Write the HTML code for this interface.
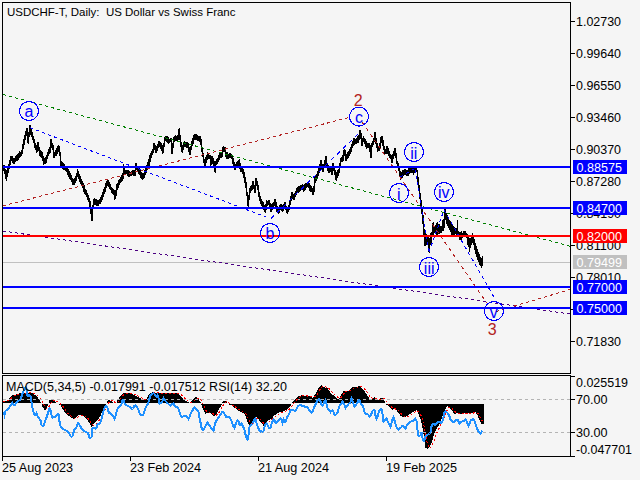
<!DOCTYPE html>
<html><head><meta charset="utf-8"><style>
html,body{margin:0;padding:0;background:#f5f5f5;width:640px;height:480px;overflow:hidden}
svg{display:block}
text{font-family:"Liberation Sans", sans-serif}
</style></head><body>
<svg width="640" height="480" viewBox="0 0 640 480">
<rect x="0" y="0" width="640" height="480" fill="#f5f5f5"/>
<rect x="3" y="262" width="567" height="1" fill="#c0c0c0"/>
<path d="M3 165v6M4 165v9M5 169v10M6 170v11M7 168v9M8 164v9M9 160v9M10 156v9M11 156v5M12 156v7M13 158v6M14 158v6M15 156v6M16 155v6M17 154v7M18 153v7M19 151v7M20 152v5M21 150v6M22 144v10M23 139v10M24 135v10M25 131v9M26 128v8M27 128v15M28 132v12M29 125v12M30 125v10M31 129v8M32 132v8M33 136v7M34 139v9M35 143v7M36 145v8M37 142v10M38 142v9M39 147v9M40 150v7M41 151v7M42 152v9M43 156v9M44 158v6M45 157v7M46 155v8M47 152v7M48 149v7M49 147v7M50 139v14M51 139v9M52 143v7M53 145v13M54 152v6M55 150v6M56 148v8M57 146v8M58 145v7M59 146v10M60 152v14M61 161v7M62 162v7M63 163v7M64 164v6M65 166v5M66 167v5M67 168v7M68 169v8M69 171v8M70 173v7M71 175v7M72 178v7M73 179v6M74 178v7M75 176v7M76 173v8M77 169v8M78 171v8M79 174v8M80 176v8M81 179v7M82 181v7M83 183v9M84 185v9M85 189v6M86 190v7M87 193v7M88 195v7M89 198v9M90 201v13M91 209v12M92 205v16M93 199v10M94 198v7M95 199v6M96 199v7M97 200v6M98 200v6M99 199v5M100 197v7M101 195v7M102 192v8M103 189v8M104 187v7M105 183v9M106 181v7M107 180v6M108 180v7M109 182v7M110 184v6M111 187v6M112 188v6M113 189v6M114 190v10M115 190v9M116 184v12M117 183v7M118 180v8M119 179v6M120 177v6M121 175v7M122 173v8M123 164v15M124 166v9M125 170v5M126 170v4M127 170v6M128 170v7M129 171v6M130 172v4M131 171v5M132 170v5M133 170v6M134 170v6M135 163v13M136 163v7M137 166v5M138 167v7M139 168v7M140 170v8M141 172v7M142 173v7M143 173v6M144 170v8M145 168v7M146 165v8M147 162v8M148 159v8M149 155v11M150 153v9M151 151v7M152 149v6M153 143v10M154 143v7M155 145v8M156 146v7M157 144v7M158 141v7M159 141v6M160 142v7M161 143v8M162 145v9M163 143v10M164 137v10M165 136v5M166 136v6M167 136v7M168 137v7M169 139v4M170 138v4M171 138v16M172 143v11M173 137v11M174 136v6M175 135v6M176 136v5M177 135v6M178 129v11M179 128v12M180 135v12M181 142v10M182 145v8M183 142v8M184 141v6M185 142v5M186 142v6M187 142v6M188 143v9M189 147v8M190 146v9M191 141v9M192 138v8M193 135v9M194 134v6M195 134v6M196 134v6M197 135v6M198 136v5M199 136v6M200 136v9M201 139v13M202 147v10M203 153v10M204 159v8M205 157v10M206 155v8M207 152v8M208 154v5M209 155v4M210 155v11M211 156v9M212 156v8M213 158v8M214 161v11M215 161v12M216 159v6M217 158v6M218 155v7M219 153v7M220 152v6M221 152v6M222 147v10M223 146v6M224 147v5M225 147v10M226 152v7M227 152v7M228 154v5M229 153v5M230 153v5M231 154v5M232 155v9M233 158v9M234 162v8M235 164v6M236 162v6M237 161v6M238 160v6M239 159v10M240 163v9M241 167v5M242 167v7M243 169v9M244 172v11M245 177v11M246 182v14M247 192v14M248 195v12M249 188v12M250 186v7M251 185v6M252 181v9M253 181v8M254 185v8M255 178v15M256 178v8M257 181v9M258 185v12M259 192v9M260 196v8M261 199v7M262 201v6M263 202v8M264 205v7M265 204v9M266 200v10M267 201v5M268 200v5M269 200v8M270 203v9M271 204v8M272 203v7M273 202v6M274 199v7M275 199v8M276 202v10M277 206v7M278 207v7M279 205v8M280 204v6M281 204v7M282 205v7M283 204v7M284 202v7M285 202v8M286 206v7M287 207v7M288 205v7M289 201v9M290 196v9M291 192v9M292 192v7M293 194v6M294 193v7M295 191v6M296 188v7M297 187v6M298 186v7M299 186v6M300 185v6M301 185v5M302 184v6M303 185v7M304 184v7M305 183v7M306 183v5M307 183v4M308 182v6M309 183v8M310 185v7M311 186v6M312 188v7M313 186v9M314 177v15M315 176v7M316 174v7M317 171v8M318 168v8M319 164v9M320 160v10M321 160v9M322 164v8M323 164v8M324 160v8M325 156v11M326 156v12M327 163v8M328 165v8M329 167v6M330 166v6M331 166v9M332 163v12M333 163v8M334 166v9M335 170v10M336 172v9M337 170v8M338 169v7M339 163v10M340 158v9M341 157v5M342 155v7M343 150v11M344 149v7M345 150v11M346 154v7M347 152v7M348 151v7M349 149v7M350 147v7M351 144v8M352 141v7M353 138v8M354 138v7M355 139v5M356 138v6M357 136v7M358 135v8M359 130v10M360 130v9M361 133v13M362 138v8M363 136v6M364 138v6M365 139v8M366 141v8M367 143v5M368 143v5M369 143v9M370 145v13M371 143v15M372 141v6M373 138v7M374 132v10M375 132v12M376 138v10M377 143v9M378 147v4M379 143v8M380 137v11M381 136v7M382 136v10M383 140v10M384 146v9M385 149v5M386 146v8M387 146v8M388 148v8M389 151v7M390 154v5M391 155v8M392 154v9M393 151v8M394 148v8M395 148v10M396 153v11M397 161v7M398 163v8M399 166v10M400 171v9M401 172v7M402 170v8M403 170v6M404 169v6M405 169v6M406 170v6M407 170v6M408 168v8M409 167v7M410 168v5M411 168v5M412 168v5M413 168v7M414 166v7M415 166v6M416 168v4M417 170v12M418 177v13M419 185v14M420 193v14M421 200v14M422 207v17M423 215v21M424 229v17M425 232v14M426 234v11M427 235v9M428 236v16M429 238v15M430 233v12M431 232v12M432 223v12M433 222v13M434 226v7M435 225v8M436 223v12M437 222v13M438 224v10M439 224v10M440 226v7M441 226v7M442 220v11M443 219v12M444 208v20M445 208v12M446 213v11M447 215v11M448 218v10M449 220v10M450 221v11M451 224v11M452 224v11M453 226v10M454 227v10M455 228v6M456 228v8M457 220v14M458 231v5M459 232v8M460 232v8M461 231v9M462 233v5M463 231v5M464 231v5M465 231v5M466 233v5M467 234v11M468 236v11M469 238v14M470 238v10M471 235v10M472 233v10M473 236v9M474 239v11M475 243v11M476 246v11M477 249v11M478 252v10M479 254v11M480 257v9M481 258v10M482 256v10" stroke="#000" stroke-width="1" transform="translate(0.5,0)" shape-rendering="crispEdges" fill="none"/>
<g shape-rendering="crispEdges"><line x1="3" y1="94.5" x2="570" y2="246.2" stroke="#008000" stroke-width="1" stroke-dasharray="3.106 3.106"/><line x1="3" y1="231" x2="570" y2="314" stroke="#4b0082" stroke-width="1" stroke-dasharray="3.032 3.032"/><line x1="3" y1="205.8" x2="351" y2="117" stroke="#b22222" stroke-width="1" stroke-dasharray="3.096 3.096"/><line x1="362" y1="122" x2="490" y2="307.6" stroke="#b22222" stroke-width="1" stroke-dasharray="3.644 3.644"/><line x1="496" y1="311.5" x2="570" y2="289.5" stroke="#b22222" stroke-width="1" stroke-dasharray="3.130 3.130"/><line x1="30" y1="127.75" x2="266" y2="217" stroke="#0000ff" stroke-width="1" stroke-dasharray="3.207 3.207"/><line x1="271" y1="218.5" x2="358" y2="134" stroke="#0000ff" stroke-width="1" stroke-dasharray="4.182 4.182"/><line x1="400" y1="177" x2="414" y2="169" stroke="#0000ff" stroke-width="1" stroke-dasharray="3.455 3.455"/><line x1="415" y1="170" x2="429" y2="252" stroke="#0000ff" stroke-width="1" stroke-dasharray="3.043 3.043"/><line x1="429" y1="252" x2="444" y2="210" stroke="#0000ff" stroke-width="1" stroke-dasharray="3.186 3.186"/><line x1="444" y1="210" x2="495" y2="299" stroke="#0000ff" stroke-width="1" stroke-dasharray="3.458 3.458"/></g>
<rect x="3" y="166" width="567" height="2" fill="#0000ff"/>
<rect x="3" y="207" width="567" height="2" fill="#0000ff"/>
<rect x="3" y="235" width="567" height="2" fill="#ff0000"/>
<rect x="3" y="286" width="567" height="2" fill="#0000ff"/>
<rect x="3" y="307" width="567" height="2" fill="#0000ff"/>
<circle cx="29" cy="111" r="9.5" fill="none" stroke="#0000ff" stroke-width="1.1" shape-rendering="crispEdges"/>
<text x="29" y="117.45" font-size="16" fill="#0000ff" text-anchor="middle">a</text>
<circle cx="270" cy="233" r="9.5" fill="none" stroke="#0000ff" stroke-width="1.1" shape-rendering="crispEdges"/>
<text x="270" y="239.29999999999998" font-size="16" fill="#0000ff" text-anchor="middle">b</text>
<circle cx="359" cy="116.6" r="9.5" fill="none" stroke="#0000ff" stroke-width="1.1" shape-rendering="crispEdges"/>
<text x="359" y="122.9" font-size="16" fill="#0000ff" text-anchor="middle">c</text>
<circle cx="414" cy="152" r="9.5" fill="none" stroke="#0000ff" stroke-width="1.1" shape-rendering="crispEdges"/>
<text x="413.8" y="158.89999999999998" font-size="16" fill="#0000ff" text-anchor="middle">ii</text>
<circle cx="399" cy="193" r="9.5" fill="none" stroke="#0000ff" stroke-width="1.1" shape-rendering="crispEdges"/>
<text x="398.8" y="199.6" font-size="16" fill="#0000ff" text-anchor="middle">i</text>
<circle cx="444" cy="192" r="9.5" fill="none" stroke="#0000ff" stroke-width="1.1" shape-rendering="crispEdges"/>
<text x="443.7" y="198.2" font-size="16" fill="#0000ff" text-anchor="middle">iv</text>
<circle cx="429" cy="267" r="9.5" fill="none" stroke="#0000ff" stroke-width="1.1" shape-rendering="crispEdges"/>
<text x="429.2" y="273.5" font-size="16" fill="#0000ff" text-anchor="middle">iii</text>
<circle cx="494" cy="311" r="9.5" fill="none" stroke="#0000ff" stroke-width="1.1" shape-rendering="crispEdges"/>
<text x="493.7" y="317.7" font-size="16" fill="#0000ff" text-anchor="middle">v</text>
<text x="358.3" y="106" font-size="16" fill="#b22222" text-anchor="middle">2</text>
<text x="492.2" y="335" font-size="16" fill="#b22222" text-anchor="middle">3</text>
<g shape-rendering="crispEdges" fill="none" stroke="#000" stroke-width="1">
<path d="M2.5 2.5H570.5V373.5H2.5Z"/>
<path d="M2.5 375.5H570.5V456.5H2.5Z"/>
</g>
<text x="576" y="26" font-size="12.5" fill="#000" text-anchor="start" textLength="45" lengthAdjust="spacingAndGlyphs">1.02730</text>
<text x="576" y="58" font-size="12.5" fill="#000" text-anchor="start" textLength="45" lengthAdjust="spacingAndGlyphs">0.99640</text>
<text x="576" y="90" font-size="12.5" fill="#000" text-anchor="start" textLength="45" lengthAdjust="spacingAndGlyphs">0.96550</text>
<text x="576" y="122" font-size="12.5" fill="#000" text-anchor="start" textLength="45" lengthAdjust="spacingAndGlyphs">0.93460</text>
<text x="576" y="154" font-size="12.5" fill="#000" text-anchor="start" textLength="45" lengthAdjust="spacingAndGlyphs">0.90370</text>
<text x="576" y="186" font-size="12.5" fill="#000" text-anchor="start" textLength="45" lengthAdjust="spacingAndGlyphs">0.87280</text>
<text x="576" y="218" font-size="12.5" fill="#000" text-anchor="start" textLength="45" lengthAdjust="spacingAndGlyphs">0.84190</text>
<text x="576" y="250" font-size="12.5" fill="#000" text-anchor="start" textLength="45" lengthAdjust="spacingAndGlyphs">0.81100</text>
<text x="576" y="282" font-size="12.5" fill="#000" text-anchor="start" textLength="45" lengthAdjust="spacingAndGlyphs">0.78010</text>
<text x="576" y="314" font-size="12.5" fill="#000" text-anchor="start" textLength="45" lengthAdjust="spacingAndGlyphs">0.74920</text>
<text x="576" y="346" font-size="12.5" fill="#000" text-anchor="start" textLength="45" lengthAdjust="spacingAndGlyphs">0.71830</text>
<path d="M571 21.5H575M571 53.5H575M571 85.5H575M571 117.5H575M571 149.5H575M571 181.5H575M571 213.5H575M571 245.5H575M571 277.5H575M571 309.5H575M571 341.5H575M571 376.5H575M571 399.5H575M571 432.5H575M571 456.5H575" stroke="#000" stroke-width="1" shape-rendering="crispEdges"/>
<rect x="573" y="160" width="54" height="14" fill="#0000ff"/>
<text x="576.5" y="172" font-size="12.5" fill="#fff" text-anchor="start" textLength="45.5" lengthAdjust="spacingAndGlyphs">0.88575</text>
<rect x="573" y="201" width="54" height="14" fill="#0000ff"/>
<text x="576.5" y="213" font-size="12.5" fill="#fff" text-anchor="start" textLength="45.5" lengthAdjust="spacingAndGlyphs">0.84700</text>
<rect x="573" y="229" width="54" height="14" fill="#ff0000"/>
<text x="576.5" y="241" font-size="12.5" fill="#fff" text-anchor="start" textLength="45.5" lengthAdjust="spacingAndGlyphs">0.82000</text>
<rect x="573" y="255" width="54" height="14" fill="#c0c0c0"/>
<text x="576.5" y="267" font-size="12.5" fill="#fff" text-anchor="start" textLength="45.5" lengthAdjust="spacingAndGlyphs">0.79499</text>
<rect x="573" y="280" width="54" height="14" fill="#0000ff"/>
<text x="576.5" y="292" font-size="12.5" fill="#fff" text-anchor="start" textLength="45.5" lengthAdjust="spacingAndGlyphs">0.77000</text>
<rect x="573" y="301" width="54" height="14" fill="#0000ff"/>
<text x="576.5" y="313" font-size="12.5" fill="#fff" text-anchor="start" textLength="45.5" lengthAdjust="spacingAndGlyphs">0.75000</text>
<text x="7" y="15.5" font-size="11.5" fill="#000" text-anchor="start" textLength="228.5" lengthAdjust="spacingAndGlyphs">USDCHF-T, Daily:&#160; US Dollar vs Swiss Franc</text>
<path d="M3 402v1M4 401v2M5 401v2M6 401v2M7 400v3M8 400v3M9 398v5M10 397v6M11 396v7M12 395v8M13 395v8M14 395v8M15 395v8M16 394v9M17 394v9M18 394v9M19 393v10M20 393v10M21 393v10M22 393v10M23 393v10M24 393v10M25 393v10M26 393v10M27 393v10M28 393v10M29 393v10M30 393v10M31 393v10M32 393v10M33 394v9M34 395v8M35 395v8M36 396v7M37 397v6M38 399v4M39 400v3M40 402v1M42 404v3M43 404v4M44 404v6M45 404v6M46 404v5M47 404v2M49 400v3M50 400v3M51 400v3M52 400v3M53 400v3M54 400v3M55 402v1M59 404v1M60 404v1M61 404v3M62 404v5M63 404v6M64 404v8M65 404v9M66 404v10M67 404v11M68 404v12M69 404v12M70 404v13M71 404v14M72 404v14M73 404v15M74 404v14M75 404v14M76 404v13M77 404v12M78 404v11M79 404v11M80 404v11M81 404v11M82 404v11M83 404v12M84 404v13M85 404v14M86 404v15M87 404v16M88 404v18M89 404v19M90 404v21M91 404v23M92 404v22M93 404v20M94 404v19M95 404v18M96 404v17M97 404v16M98 404v15M99 404v13M100 404v12M101 404v9M102 404v7M103 404v5M104 404v3M105 404v2M107 401v2M108 400v3M109 400v3M110 401v2M111 401v2M112 402v1M117 400v3M118 399v4M119 397v6M120 396v7M121 395v8M122 394v9M123 393v10M124 393v10M125 393v10M126 393v10M127 393v10M128 393v10M129 393v10M130 394v9M131 394v9M132 394v9M133 395v8M134 395v8M135 396v7M136 396v7M137 397v6M138 397v6M139 398v5M140 398v5M141 399v4M142 400v3M143 400v3M144 400v3M145 400v3M146 399v4M147 397v6M148 395v8M149 394v9M150 393v10M151 393v10M152 392v11M153 392v11M154 393v10M155 393v10M156 393v10M157 393v10M158 393v10M159 393v10M160 393v10M161 393v10M162 393v10M163 393v10M164 393v10M165 393v10M166 393v10M167 393v10M168 393v10M169 393v10M170 393v10M171 393v10M172 393v10M173 393v10M174 393v10M175 393v10M176 393v10M177 394v9M178 394v9M179 395v8M180 396v7M181 397v6M182 398v5M183 399v4M184 400v3M185 401v2M186 401v2M187 402v1M188 402v1M190 402v1M191 401v2M192 400v3M193 399v4M194 398v5M195 397v6M196 397v6M197 398v5M198 399v4M199 401v2M200 402v1M201 404v1M202 404v4M203 404v6M204 404v8M205 404v10M206 404v9M207 404v9M208 404v9M209 404v9M210 404v9M211 404v10M212 404v11M213 404v12M214 404v12M215 404v11M216 404v10M217 404v8M218 404v6M219 404v4M220 404v3M221 404v1M222 402v1M223 401v2M224 401v2M225 401v2M226 402v1M229 404v1M230 404v1M231 404v1M232 404v2M233 404v3M234 404v4M235 404v4M236 404v5M237 404v6M238 404v7M239 404v7M240 404v8M241 404v8M242 404v9M243 404v9M244 404v10M245 404v12M246 404v15M247 404v18M248 404v20M249 404v21M250 404v21M251 404v19M252 404v18M253 404v16M254 404v15M255 404v13M256 404v13M257 404v14M258 404v15M259 404v17M260 404v18M261 404v19M262 404v20M263 404v22M264 404v22M265 404v20M266 404v18M267 404v17M268 404v16M269 404v16M270 404v15M271 404v15M272 404v14M273 404v12M274 404v11M275 404v11M276 404v10M277 404v9M278 404v9M279 404v8M280 404v8M281 404v8M282 404v8M283 404v7M284 404v7M285 404v6M286 404v6M287 404v5M288 404v4M289 404v3M290 404v2M292 402v1M293 401v2M294 400v3M295 399v4M296 398v5M297 397v6M298 396v7M299 396v7M300 396v7M301 395v8M302 395v8M303 395v8M304 396v7M305 396v7M306 396v7M307 396v7M308 396v7M309 396v7M310 396v7M311 397v6M312 398v5M313 397v6M314 395v8M315 394v9M316 392v11M317 390v13M318 388v15M319 387v16M320 386v17M321 385v18M322 386v17M323 387v16M324 387v16M325 388v15M326 388v15M327 388v15M328 390v13M329 391v12M330 393v10M331 394v9M332 395v8M333 395v8M334 396v7M335 397v6M336 398v5M337 399v4M338 399v4M339 398v5M340 396v7M341 394v9M342 393v10M343 391v12M344 391v12M345 391v12M346 391v12M347 391v12M348 391v12M349 390v13M350 389v14M351 388v15M352 387v16M353 387v16M354 387v16M355 387v16M356 387v16M357 387v16M358 386v17M359 386v17M360 387v16M361 388v15M362 389v14M363 390v13M364 391v12M365 393v10M366 394v9M367 396v7M368 397v6M369 399v4M370 399v4M371 399v4M372 399v4M373 398v5M374 397v6M375 398v5M376 400v3M377 400v3M378 400v3M379 399v4M380 398v5M381 398v5M382 398v5M383 399v4M384 401v2M386 404v1M387 404v1M388 404v2M389 404v3M390 404v4M391 404v5M392 404v6M393 404v5M394 404v4M395 404v5M396 404v6M397 404v8M398 404v9M399 404v10M400 404v12M401 404v12M402 404v13M403 404v13M404 404v13M405 404v13M406 404v12M407 404v12M408 404v11M409 404v10M410 404v10M411 404v9M412 404v8M413 404v8M414 404v7M415 404v7M416 404v6M417 404v8M418 404v10M419 404v13M420 404v15M421 404v19M422 404v24M423 404v30M424 404v36M425 404v44M426 404v44M427 404v45M428 404v44M429 404v43M430 404v41M431 404v39M432 404v36M433 404v32M434 404v29M435 404v27M436 404v25M437 404v23M438 404v22M439 404v20M440 404v18M441 404v15M442 404v12M443 404v10M444 404v7M445 404v5M446 404v3M447 404v2M448 404v3M449 404v4M450 404v5M451 404v6M452 404v7M453 404v9M454 404v10M455 404v10M456 404v9M457 404v9M458 404v9M459 404v10M460 404v10M461 404v10M462 404v10M463 404v10M464 404v9M465 404v9M466 404v9M467 404v9M468 404v9M469 404v10M470 404v9M471 404v9M472 404v9M473 404v8M474 404v8M475 404v8M476 404v10M477 404v11M478 404v14M479 404v16M480 404v18M481 404v20M482 404v20M483 404v20" stroke="#000" stroke-width="1" transform="translate(0.5,0)" shape-rendering="crispEdges"/>
<path d="M3 399.5H570M3 432.5H570" stroke="#b4b4b4" stroke-width="1" stroke-dasharray="3 3" shape-rendering="crispEdges"/>
<polyline points="3.5,401.7 4.5,401.5 5.5,401.3 6.5,401.1 7.5,400.9 8.5,400.5 9.5,399.9 10.5,399.1 11.5,398.2 12.5,397.2 13.5,396.3 14.5,395.6 15.5,395.2 16.5,394.8 17.5,394.5 18.5,394.2 19.5,393.9 20.5,393.6 21.5,393.4 22.5,393.3 23.5,393.3 24.5,393.2 25.5,393.1 26.5,393.1 27.5,392.9 28.5,392.9 29.5,392.8 30.5,392.8 31.5,392.8 32.5,392.9 33.5,393.1 34.5,393.5 35.5,393.9 36.5,394.6 37.5,395.4 38.5,396.4 39.5,397.4 40.5,398.7 41.5,400.3 42.5,402.2 43.5,404.2 44.5,406.1 45.5,407.7 46.5,408.7 47.5,408.5 48.5,407.4 49.5,405.5 50.5,403.6 51.5,401.9 52.5,400.7 53.5,400.1 54.5,400.1 55.5,400.5 56.5,401.1 57.5,401.7 58.5,402.4 59.5,403.3 60.5,404.0 61.5,404.7 62.5,405.7 63.5,407.1 64.5,408.6 65.5,410.2 66.5,411.6 67.5,412.9 68.5,413.9 69.5,414.8 70.5,415.5 71.5,416.3 72.5,417.0 73.5,417.7 74.5,418.1 75.5,418.3 76.5,418.1 77.5,417.6 78.5,416.9 79.5,416.2 80.5,415.6 81.5,415.2 82.5,415.1 83.5,415.3 84.5,415.6 85.5,416.2 86.5,417.0 87.5,418.0 88.5,419.1 89.5,420.5 90.5,421.9 91.5,423.6 92.5,424.7 93.5,425.2 94.5,425.1 95.5,424.5 96.5,423.3 97.5,422.1 98.5,421.0 99.5,419.8 100.5,418.6 101.5,417.0 102.5,415.2 103.5,413.3 104.5,411.3 105.5,409.3 106.5,407.2 107.5,405.1 108.5,403.2 109.5,401.8 110.5,400.7 111.5,400.3 112.5,400.7 113.5,401.4 114.5,402.0 115.5,402.5 116.5,402.9 117.5,402.4 118.5,401.5 119.5,400.3 120.5,398.9 121.5,397.3 122.5,396.0 123.5,395.0 124.5,394.2 125.5,393.7 126.5,393.4 127.5,393.3 128.5,393.3 129.5,393.3 130.5,393.4 131.5,393.5 132.5,393.7 133.5,394.0 134.5,394.4 135.5,394.8 136.5,395.3 137.5,395.8 138.5,396.2 139.5,396.7 140.5,397.2 141.5,397.8 142.5,398.4 143.5,399.0 144.5,399.6 145.5,399.9 146.5,399.9 147.5,399.4 148.5,398.4 149.5,397.2 150.5,395.9 151.5,394.6 152.5,393.6 153.5,393.0 154.5,392.7 155.5,392.6 156.5,392.6 157.5,392.7 158.5,392.8 159.5,392.9 160.5,393.0 161.5,393.1 162.5,393.2 163.5,393.2 164.5,393.3 165.5,393.3 166.5,393.3 167.5,393.3 168.5,393.3 169.5,393.3 170.5,393.3 171.5,393.3 172.5,393.3 173.5,393.3 174.5,393.3 175.5,393.3 176.5,393.3 177.5,393.4 178.5,393.4 179.5,393.8 180.5,394.3 181.5,395.1 182.5,396.0 183.5,397.0 184.5,398.0 185.5,399.0 186.5,399.8 187.5,400.6 188.5,401.3 189.5,401.8 190.5,402.1 191.5,402.2 192.5,401.9 193.5,401.2 194.5,400.2 195.5,399.3 196.5,398.4 197.5,398.0 198.5,398.0 199.5,398.5 200.5,399.4 201.5,400.9 202.5,402.8 203.5,405.0 204.5,407.3 205.5,409.6 206.5,411.4 207.5,412.4 208.5,412.9 209.5,413.0 210.5,412.9 211.5,413.0 212.5,413.4 213.5,414.0 214.5,414.6 215.5,415.1 216.5,415.1 217.5,414.5 218.5,413.3 219.5,411.7 220.5,410.0 221.5,408.2 222.5,406.3 223.5,404.6 224.5,403.2 225.5,402.1 226.5,401.5 227.5,401.8 228.5,402.5 229.5,403.2 230.5,404.0 231.5,404.6 232.5,405.1 233.5,405.6 234.5,406.2 235.5,406.9 236.5,407.6 237.5,408.4 238.5,409.1 239.5,409.8 240.5,410.4 241.5,411.0 242.5,411.6 243.5,412.1 244.5,412.7 245.5,413.6 246.5,414.9 247.5,416.7 248.5,418.8 249.5,421.1 250.5,422.8 251.5,423.8 252.5,424.0 253.5,423.2 254.5,421.9 255.5,420.4 256.5,419.1 257.5,418.2 258.5,417.9 259.5,418.3 260.5,419.3 261.5,420.6 262.5,421.8 263.5,423.1 264.5,424.2 265.5,424.6 266.5,424.4 267.5,423.7 268.5,422.6 269.5,421.3 270.5,420.4 271.5,419.6 272.5,419.0 273.5,418.2 274.5,417.4 275.5,416.5 276.5,415.6 277.5,414.8 278.5,414.1 279.5,413.5 280.5,413.0 281.5,412.5 282.5,412.1 283.5,411.8 284.5,411.5 285.5,411.2 286.5,410.9 287.5,410.4 288.5,409.8 289.5,409.1 290.5,408.2 291.5,406.9 292.5,405.4 293.5,403.9 294.5,402.5 295.5,401.2 296.5,400.1 297.5,399.2 298.5,398.3 299.5,397.4 300.5,396.7 301.5,396.1 302.5,395.7 303.5,395.5 304.5,395.5 305.5,395.6 306.5,395.8 307.5,396.0 308.5,396.2 309.5,396.4 310.5,396.5 311.5,396.7 312.5,397.0 313.5,397.1 314.5,396.9 315.5,396.4 316.5,395.4 317.5,393.7 318.5,392.0 319.5,390.3 320.5,388.7 321.5,387.3 322.5,386.5 323.5,386.3 324.5,386.3 325.5,386.7 326.5,387.2 327.5,387.6 328.5,388.1 329.5,388.9 330.5,390.0 331.5,391.3 332.5,392.6 333.5,393.7 334.5,394.7 335.5,395.5 336.5,396.2 337.5,397.0 338.5,397.8 339.5,398.1 340.5,397.8 341.5,397.1 342.5,395.9 343.5,394.3 344.5,392.9 345.5,391.9 346.5,391.2 347.5,390.9 348.5,390.8 349.5,390.7 350.5,390.4 351.5,389.9 352.5,389.1 353.5,388.4 354.5,387.8 355.5,387.5 356.5,387.2 357.5,387.1 358.5,386.8 359.5,386.7 360.5,386.6 361.5,386.8 362.5,387.2 363.5,387.9 364.5,388.9 365.5,390.1 366.5,391.5 367.5,392.9 368.5,394.4 369.5,395.8 370.5,397.0 371.5,397.9 372.5,398.5 373.5,398.7 374.5,398.5 375.5,398.3 376.5,398.4 377.5,398.6 378.5,398.9 379.5,399.3 380.5,399.3 381.5,398.9 382.5,398.6 383.5,398.5 384.5,399.0 385.5,400.0 386.5,401.4 387.5,402.9 388.5,404.3 389.5,405.4 390.5,406.2 391.5,407.1 392.5,408.0 393.5,408.5 394.5,408.8 395.5,409.0 396.5,409.2 397.5,409.6 398.5,410.5 399.5,411.6 400.5,413.0 401.5,414.2 402.5,415.2 403.5,415.9 404.5,416.4 405.5,416.7 406.5,416.7 407.5,416.6 408.5,416.3 409.5,415.8 410.5,415.1 411.5,414.5 412.5,413.8 413.5,413.0 414.5,412.4 415.5,411.7 416.5,411.1 417.5,411.0 418.5,411.5 419.5,412.6 420.5,414.2 421.5,416.8 422.5,419.9 423.5,423.9 424.5,428.6 425.5,434.4 426.5,439.5 427.5,443.8 428.5,446.7 429.5,448.0 430.5,447.5 431.5,446.4 432.5,444.6 433.5,442.1 434.5,439.4 435.5,436.6 436.5,433.9 437.5,431.4 438.5,429.4 439.5,427.6 440.5,425.6 441.5,423.5 442.5,421.3 443.5,419.0 444.5,416.4 445.5,413.9 446.5,411.6 447.5,409.5 448.5,408.0 449.5,407.3 450.5,407.1 451.5,407.7 452.5,408.8 453.5,410.0 454.5,411.2 455.5,412.2 456.5,413.0 457.5,413.3 458.5,413.5 459.5,413.5 460.5,413.5 461.5,413.7 462.5,413.8 463.5,413.8 464.5,413.7 465.5,413.4 466.5,413.2 467.5,413.0 468.5,413.0 469.5,413.1 470.5,413.2 471.5,413.3 472.5,413.2 473.5,413.0 474.5,412.7 475.5,412.5 476.5,412.6 477.5,413.2 478.5,414.2 479.5,415.8 480.5,417.7 481.5,419.8 482.5,421.4 483.5,422.6" fill="none" stroke="#ff0000" stroke-width="1" stroke-dasharray="2 2" shape-rendering="crispEdges"/>
<polyline points="3.5,412.0 4.5,415.2 5.5,411.0 6.5,410.0 7.5,409.3 8.5,408.6 9.5,407.2 10.5,405.5 11.5,404.0 12.5,402.7 13.5,404.8 14.5,405.2 15.5,403.9 16.5,402.3 17.5,401.0 18.5,400.8 19.5,400.3 20.5,398.9 21.5,396.5 22.5,393.5 23.5,391.1 24.5,389.2 25.5,387.6 26.5,390.2 27.5,396.1 28.5,395.3 29.5,395.0 30.5,396.2 31.5,402.0 32.5,408.2 33.5,412.2 34.5,415.1 35.5,415.0 36.5,413.0 37.5,416.2 38.5,417.6 39.5,419.0 40.5,420.3 41.5,425.1 42.5,425.9 43.5,425.4 44.5,422.9 45.5,420.3 46.5,417.7 47.5,414.6 48.5,411.6 49.5,408.5 50.5,409.6 51.5,414.8 52.5,417.7 53.5,416.9 54.5,416.6 55.5,417.0 56.5,415.7 57.5,414.3 58.5,414.4 59.5,421.5 60.5,426.3 61.5,427.3 62.5,428.4 63.5,429.1 64.5,429.7 65.5,430.2 66.5,430.9 67.5,431.7 68.5,432.5 69.5,434.1 70.5,436.0 71.5,436.9 72.5,436.1 73.5,432.6 74.5,429.5 75.5,428.3 76.5,427.3 77.5,423.7 78.5,423.0 79.5,425.0 80.5,426.8 81.5,428.2 82.5,429.2 83.5,430.2 84.5,431.2 85.5,431.6 86.5,432.2 87.5,432.7 88.5,434.6 89.5,438.1 90.5,438.1 91.5,437.0 92.5,428.5 93.5,428.0 94.5,428.0 95.5,428.5 96.5,427.4 97.5,424.7 98.5,424.0 99.5,423.5 100.5,422.0 101.5,419.3 102.5,415.4 103.5,410.8 104.5,407.9 105.5,406.5 106.5,406.3 107.5,408.1 108.5,411.4 109.5,413.4 110.5,413.5 111.5,414.9 112.5,415.6 113.5,416.1 114.5,418.3 115.5,416.3 116.5,411.9 117.5,409.2 118.5,407.7 119.5,406.6 120.5,406.1 121.5,403.9 122.5,400.0 123.5,399.7 124.5,403.1 125.5,404.8 126.5,405.3 127.5,405.8 128.5,406.3 129.5,406.8 130.5,407.7 131.5,408.7 132.5,408.5 133.5,407.5 134.5,405.6 135.5,405.4 136.5,406.4 137.5,407.9 138.5,410.0 139.5,413.1 140.5,415.0 141.5,415.5 142.5,415.4 143.5,414.4 144.5,411.1 145.5,407.8 146.5,406.0 147.5,404.6 148.5,402.3 149.5,398.5 150.5,395.4 151.5,394.8 152.5,393.8 153.5,393.0 154.5,394.1 155.5,396.0 156.5,396.7 157.5,394.8 158.5,397.8 159.5,403.7 160.5,403.3 161.5,402.4 162.5,401.1 163.5,398.0 164.5,399.6 165.5,400.9 166.5,402.1 167.5,403.1 168.5,404.0 169.5,405.0 170.5,405.6 171.5,404.8 172.5,403.9 173.5,403.4 174.5,405.8 175.5,405.8 176.5,407.4 177.5,407.2 178.5,409.1 179.5,412.0 180.5,415.0 181.5,416.8 182.5,416.8 183.5,416.1 184.5,415.9 185.5,415.8 186.5,416.1 187.5,417.2 188.5,419.1 189.5,417.3 190.5,413.8 191.5,411.8 192.5,410.7 193.5,407.9 194.5,407.4 195.5,408.1 196.5,409.1 197.5,410.5 198.5,411.9 199.5,418.1 200.5,422.5 201.5,427.5 202.5,429.3 203.5,430.0 204.5,428.1 205.5,426.2 206.5,424.3 207.5,422.6 208.5,424.0 209.5,425.4 210.5,426.9 211.5,428.4 212.5,429.5 213.5,430.6 214.5,425.7 215.5,422.5 216.5,420.5 217.5,418.9 218.5,417.4 219.5,415.9 220.5,414.4 221.5,412.9 222.5,411.8 223.5,412.2 224.5,414.2 225.5,415.8 226.5,417.2 227.5,417.1 228.5,416.6 229.5,416.8 230.5,418.8 231.5,421.1 232.5,423.7 233.5,426.5 234.5,427.9 235.5,424.5 236.5,422.0 237.5,420.7 238.5,421.6 239.5,424.9 240.5,424.4 241.5,423.3 242.5,425.3 243.5,427.6 244.5,430.2 245.5,434.4 246.5,438.3 247.5,439.6 248.5,435.4 249.5,427.0 250.5,425.0 251.5,424.3 252.5,423.5 253.5,421.5 254.5,419.8 255.5,418.8 256.5,422.8 257.5,425.8 258.5,428.5 259.5,430.2 260.5,431.9 261.5,431.2 262.5,431.6 263.5,431.2 264.5,427.2 265.5,424.4 266.5,423.7 267.5,425.0 268.5,427.0 269.5,428.2 270.5,427.5 271.5,424.4 272.5,421.5 273.5,419.4 274.5,420.7 275.5,422.3 276.5,423.0 277.5,421.8 278.5,420.9 279.5,419.9 280.5,418.5 281.5,420.1 282.5,423.1 283.5,419.6 284.5,421.5 285.5,421.5 286.5,419.4 287.5,416.2 288.5,415.0 289.5,413.2 290.5,410.5 291.5,409.8 292.5,409.6 293.5,410.3 294.5,410.7 295.5,410.8 296.5,409.0 297.5,406.9 298.5,405.8 299.5,405.1 300.5,404.8 301.5,405.4 302.5,405.9 303.5,406.2 304.5,406.5 305.5,406.7 306.5,406.9 307.5,406.9 308.5,408.8 309.5,410.5 310.5,411.8 311.5,412.6 312.5,412.4 313.5,408.9 314.5,406.5 315.5,404.5 316.5,402.6 317.5,400.6 318.5,399.2 319.5,399.0 320.5,401.5 321.5,404.8 322.5,405.4 323.5,404.0 324.5,401.7 325.5,400.2 326.5,403.6 327.5,408.0 328.5,409.4 329.5,410.8 330.5,412.0 331.5,410.8 332.5,410.4 333.5,412.0 334.5,414.7 335.5,414.9 336.5,414.2 337.5,412.5 338.5,409.3 339.5,405.7 340.5,404.7 341.5,403.3 342.5,401.7 343.5,403.1 344.5,405.2 345.5,408.1 346.5,406.9 347.5,405.4 348.5,404.0 349.5,403.2 350.5,402.0 351.5,398.5 352.5,401.1 353.5,403.7 354.5,406.4 355.5,405.8 356.5,404.2 357.5,402.3 358.5,400.8 359.5,399.9 360.5,402.9 361.5,404.9 362.5,405.5 363.5,407.9 364.5,412.0 365.5,413.4 366.5,414.2 367.5,414.2 368.5,414.9 369.5,417.1 370.5,416.1 371.5,413.7 372.5,411.0 373.5,410.0 374.5,410.0 375.5,415.5 376.5,418.8 377.5,417.3 378.5,413.2 379.5,410.5 380.5,408.9 381.5,409.0 382.5,413.9 383.5,421.4 384.5,420.7 385.5,419.6 386.5,418.6 387.5,421.2 388.5,423.2 389.5,424.6 390.5,426.5 391.5,423.2 392.5,419.2 393.5,417.2 394.5,420.4 395.5,424.1 396.5,426.8 397.5,429.0 398.5,429.5 399.5,428.6 400.5,427.9 401.5,427.0 402.5,425.7 403.5,426.0 404.5,427.8 405.5,428.8 406.5,425.8 407.5,424.2 408.5,423.3 409.5,422.3 410.5,421.7 411.5,421.3 412.5,421.0 413.5,420.6 414.5,419.7 415.5,418.8 416.5,420.8 417.5,429.8 418.5,435.5 419.5,436.0 420.5,435.0 421.5,432.0 422.5,437.8 423.5,440.9 424.5,440.4 425.5,436.2 426.5,435.6 427.5,434.9 428.5,434.3 429.5,433.5 430.5,432.5 431.5,426.5 432.5,424.5 433.5,423.8 434.5,424.3 435.5,425.0 436.5,423.7 437.5,422.4 438.5,421.8 439.5,421.6 440.5,422.9 441.5,423.0 442.5,420.8 443.5,416.7 444.5,412.0 445.5,411.5 446.5,412.2 447.5,412.9 448.5,414.5 449.5,416.5 450.5,419.3 451.5,420.8 452.5,421.5 453.5,422.2 454.5,421.8 455.5,420.5 456.5,419.8 457.5,419.8 458.5,421.2 459.5,423.8 460.5,423.1 461.5,421.8 462.5,421.0 463.5,421.0 464.5,420.4 465.5,419.4 466.5,420.7 467.5,423.6 468.5,425.9 469.5,423.6 470.5,420.9 471.5,419.9 472.5,419.4 473.5,419.4 474.5,421.2 475.5,423.8 476.5,427.0 477.5,429.8 478.5,431.2 479.5,432.9 480.5,433.6 481.5,432.1 482.5,430.8" fill="none" stroke="#1e90ff" stroke-width="2" stroke-linejoin="miter" shape-rendering="crispEdges"/>
<text x="6" y="391" font-size="12.5" fill="#000" text-anchor="start" textLength="281" lengthAdjust="spacingAndGlyphs">MACD(5,34,5) -0.017991 -0.017512 RSI(14) 32.20</text>
<text x="576" y="387" font-size="12.5" fill="#000" text-anchor="start" textLength="52" lengthAdjust="spacingAndGlyphs">0.025519</text>
<text x="576" y="404" font-size="12.5" fill="#000" text-anchor="start" textLength="31.5" lengthAdjust="spacingAndGlyphs">70.00</text>
<text x="576" y="437" font-size="12.5" fill="#000" text-anchor="start" textLength="31.5" lengthAdjust="spacingAndGlyphs">30.00</text>
<text x="576" y="454" font-size="12.5" fill="#000" text-anchor="start" textLength="56" lengthAdjust="spacingAndGlyphs">-0.047701</text>
<text x="2" y="472" font-size="12.5" fill="#000" text-anchor="start" textLength="71" lengthAdjust="spacingAndGlyphs">25 Aug 2023</text>
<text x="130" y="472" font-size="12.5" fill="#000" text-anchor="start" textLength="71" lengthAdjust="spacingAndGlyphs">23 Feb 2024</text>
<text x="258" y="472" font-size="12.5" fill="#000" text-anchor="start" textLength="71" lengthAdjust="spacingAndGlyphs">21 Aug 2024</text>
<text x="386" y="472" font-size="12.5" fill="#000" text-anchor="start" textLength="71" lengthAdjust="spacingAndGlyphs">19 Feb 2025</text>
<path d="M2.5 456V461M130.5 456V461M258.5 456V461M386.5 456V461" stroke="#000" stroke-width="1" shape-rendering="crispEdges"/>
</svg>
</body></html>
